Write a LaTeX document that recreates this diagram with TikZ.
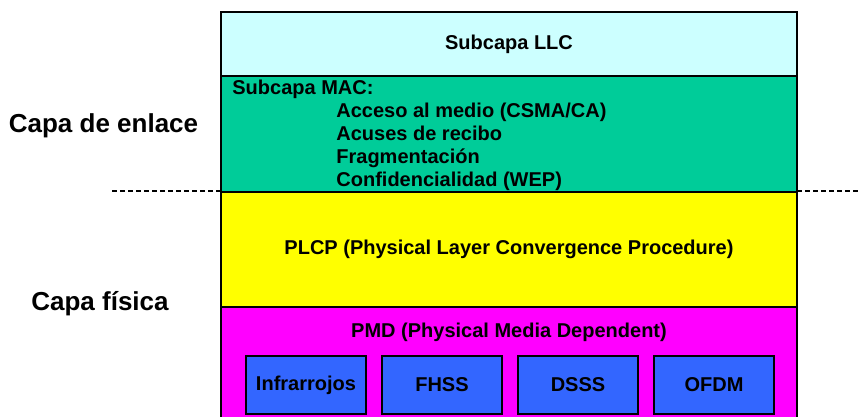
\documentclass[tikz,border=0pt]{standalone}
\usepackage{fontspec}
\setmainfont{Liberation Sans}
\usepackage{tikz}
\usetikzlibrary{positioning}
\definecolor{llccol}{HTML}{CCFFFF}
\definecolor{maccol}{HTML}{00CC99}
\definecolor{plcpcol}{HTML}{FFFF00}
\definecolor{pmdcol}{HTML}{FF00FF}
\definecolor{techcol}{HTML}{3366FF}
\tikzset{layer/.style={draw, line width=1pt, inner sep=0pt, outer sep=0pt,
    minimum width=288pt, font=\bfseries\fontsize{10pt}{12pt}\selectfont},
  tech/.style={draw, line width=1pt, fill=techcol, inner sep=0pt, outer sep=0pt,
    minimum width=60pt, minimum height=29pt,
    font=\bfseries\fontsize{10pt}{12pt}\selectfont},
  txt/.style={inner sep=0pt, font=\bfseries\fontsize{10pt}{11.5pt}\selectfont},
  side/.style={inner sep=0pt, font=\bfseries\fontsize{13pt}{15pt}\selectfont},
  sep/.style={dashed, dash pattern=on 2.5pt off 1.5pt, line width=0.6pt}}

\begin{document}
\begin{tikzpicture}[x=0.5pt,y=-0.5pt]

  \useasboundingbox (0,0) rectangle (861,417);
  \clip (0,0) rectangle (861,417);

  \node [layer, fill=llccol, minimum height=32pt] (llc) at (509,44) {Subcapa LLC};
  \node [layer, fill=maccol, minimum height=58pt] (mac) at (509,134) {};
  \node [layer, fill=plcpcol, minimum height=57.5pt] (plcp) at (509,249.5)
    {PLCP (Physical Layer Convergence Procedure)};
  \node [layer, fill=pmdcol, minimum height=61.5pt] (pmd) at (509,368.5) {};

  \node [txt, anchor=west] (macttl) at (232,89) {Subcapa MAC:};
  \node [txt, anchor=west, align=left] (maclist) at (336,147)
    {Acceso al medio (CSMA/CA)\\ Acuses de recibo\\ Fragmentación\\ Confidencialidad (WEP)};
  \node [txt] (pmdttl) at (509,332) {PMD (Physical Media Dependent)};

  \node [tech] (ir) at (306,385) {Infrarrojos};
  \node [tech, right=8pt of ir] (fhss) {FHSS};
  \node [tech, right=8pt of fhss] (dsss) {DSSS};
  \node [tech, right=8pt of dsss] (ofdm) {OFDM};

  \coordinate (dl) at (112,191);
  \coordinate (dr) at (861,191);
  \draw [sep] (dl) -- (dl -| mac.west);
  \draw [sep] (dr -| mac.east) -- (dr);

  \node [side] (enlace) at (103.5,126) {Capa de enlace};
  \node [side] (fisica) at (100,304) {Capa física};

\end{tikzpicture}
\end{document}
